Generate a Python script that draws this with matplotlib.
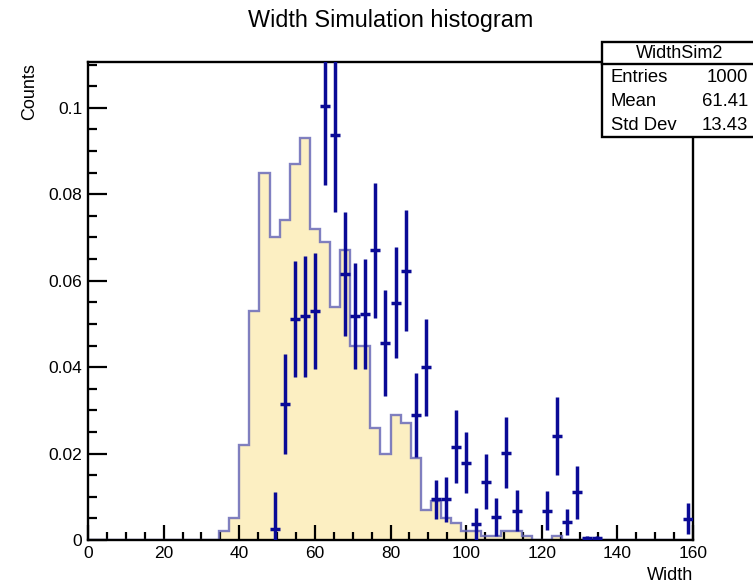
"""Width simulation histogram (ROOT-style) — filled reference vs. simulated points."""
import matplotlib
matplotlib.use("Agg")
import matplotlib.pyplot as plt
from matplotlib.patches import Rectangle
from matplotlib.ticker import MultipleLocator
import numpy as np

plt.rcParams["font.family"] = ["Liberation Sans", "DejaVu Sans"]

# 60 bins between 0 and 160
N_BINS = 60
X_LO, X_HI = 0, 160

# filled histogram (normalised counts per bin, bins 0..59)
ref_counts = [
    0, 0, 0, 0, 0, 0, 0, 0, 0, 0, 0, 0, 0,
    0.002, 0.005, 0.022, 0.053, 0.085, 0.070, 0.074, 0.087, 0.093,
    0.072, 0.069, 0.054, 0.067, 0.045, 0.045, 0.026, 0.020, 0.029,
    0.027, 0.019, 0.007, 0.009, 0.005, 0.004, 0.002, 0.002, 0.001,
    0.001, 0.002, 0.002, 0.001, 0, 0, 0.001,
    0, 0, 0, 0, 0, 0, 0, 0, 0, 0, 0, 0, 0,
]

# simulated points: bin index, value, error
sim_bins = [18, 19, 20, 21, 22, 23, 24, 25, 26, 27, 28, 29, 30, 31, 32, 33,
            34, 35, 36, 37, 38, 39, 40, 41, 42, 45, 46, 47, 48, 49, 50, 59]
sim_vals = [0.0025, 0.0315, 0.0511, 0.0518, 0.0530, 0.1004, 0.0936, 0.0616,
            0.0518, 0.0523, 0.0670, 0.0456, 0.0549, 0.0623, 0.0290, 0.0400,
            0.0094, 0.0094, 0.0216, 0.0179, 0.0037, 0.0135, 0.0054, 0.0202,
            0.0068, 0.0068, 0.0240, 0.0042, 0.0110, 0.0005, 0.0005, 0.0049]
sim_errs = [0.0085, 0.0115, 0.0135, 0.0140, 0.0135, 0.0183, 0.0177, 0.0143,
            0.0122, 0.0128, 0.0157, 0.0122, 0.0128, 0.0140, 0.0097, 0.0112,
            0.0045, 0.0052, 0.0085, 0.0070, 0.0037, 0.0064, 0.0044, 0.0082,
            0.0048, 0.0045, 0.0090, 0.0030, 0.0062, 0.0004, 0.0004, 0.0036]

stats_name = "WidthSim2"
stats_rows = [("Entries", "1000"), ("Mean", "61.41"), ("Std Dev", "13.43")]

W, H = 753, 587
fig = plt.figure(figsize=(W / 100, H / 100), dpi=100)
ax = fig.add_axes([88 / W, 1 - 540 / H, (693 - 88) / W, (540 - 62) / H])

edges = np.linspace(X_LO, X_HI, N_BINS + 1)
width = edges[1] - edges[0]
centers = edges[sim_bins] + width / 2

ax.stairs(ref_counts, edges, fill=True, color="#fcefc2", zorder=1)
ax.stairs(ref_counts, edges, color="#6a6ab8", lw=1.7, alpha=0.85, zorder=2)
ax.errorbar(centers, sim_vals, yerr=sim_errs, xerr=width / 2, fmt="none",
            ecolor="#0a0a96", elinewidth=2.5, capsize=0, zorder=3)

ax.set_xlim(X_LO, X_HI)
ax.set_ylim(0, 0.1106)
ax.xaxis.set_major_locator(MultipleLocator(20))
ax.xaxis.set_minor_locator(MultipleLocator(5))
ax.yaxis.set_major_locator(MultipleLocator(0.02))
ax.yaxis.set_minor_locator(MultipleLocator(0.005))
ax.yaxis.set_major_formatter(lambda v, p: "0" if v == 0 else f"{v:g}")
ax.tick_params(axis="x", which="major", direction="in", length=11, width=1.6,
               labelsize=12.5, pad=4)
ax.tick_params(axis="x", which="minor", direction="in", length=5.5, width=1.6)
ax.tick_params(axis="y", which="major", direction="in", length=13.5, width=1.6,
               labelsize=12.5, pad=4)
ax.tick_params(axis="y", which="minor", direction="in", length=6.5, width=1.6)
for s in ax.spines.values():
    s.set_linewidth(1.7)

fig.text(391 / W, 1 - 20 / H, "Width Simulation histogram", ha="center",
         va="center", fontsize=16.8)
fig.text(693 / W, 1 - 576 / H, "Width", ha="right", va="center", fontsize=13)
fig.text(30 / W, 1 - 92 / H, "Counts", ha="center", va="center",
         rotation=90, fontsize=13)

# stats box
bx0, bx1, by0, by1, bsep = 602, 760, 42, 137, 64
fig.add_artist(Rectangle((bx0 / W, 1 - by1 / H), (bx1 - bx0) / W,
                         (by1 - by0) / H, transform=fig.transFigure,
                         facecolor="white", edgecolor="black", lw=1.7,
                         zorder=10))
fig.add_artist(plt.Line2D([bx0 / W, bx1 / W], [1 - bsep / H, 1 - bsep / H],
                          transform=fig.transFigure, color="black", lw=1.7,
                          zorder=11))
fig.text(680 / W, 1 - 53 / H, stats_name, ha="center", va="center",
         fontsize=13, zorder=12)
for k, (lab, val) in enumerate(stats_rows):
    yy = 1 - (77 + 24.5 * k) / H
    fig.text(611 / W, yy, lab, ha="left", va="center", fontsize=13.3, zorder=12)
    fig.text(748 / W, yy, val, ha="right", va="center", fontsize=13.3, zorder=12)

fig.savefig("out.png", dpi=100)
plt.close(fig)
